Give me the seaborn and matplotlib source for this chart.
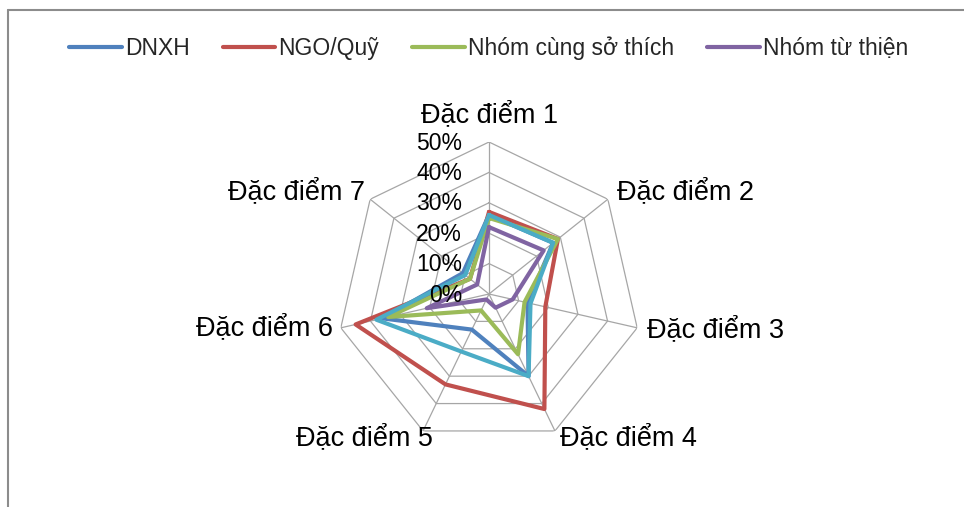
import numpy as np
import pandas as pd
import matplotlib
matplotlib.use("Agg")
import matplotlib.pyplot as plt
from matplotlib.lines import Line2D
import seaborn as sns

# --- data -------------------------------------------------------------
categories = ["Đặc điểm 1", "Đặc điểm 2", "Đặc điểm 3", "Đặc điểm 4",
              "Đặc điểm 5", "Đặc điểm 6", "Đặc điểm 7"]
series_names = ["DNXH", "NGO/Quỹ", "Nhóm cùng sở thích", "Nhóm từ thiện", "Khác"]
dnxh = [0.26, 0.27, 0.13, 0.30, 0.13, 0.36, 0.11]
ngo_quy = [0.27, 0.29, 0.19, 0.42, 0.33, 0.45, 0.08]
nhom_cung_so_thich = [0.25, 0.29, 0.12, 0.22, 0.06, 0.34, 0.08]
nhom_tu_thien = [0.22, 0.23, 0.08, 0.05, 0.02, 0.21, 0.05]
khac = [0.26, 0.27, 0.14, 0.30, 0.21, 0.38, 0.10]
ring_levels = [0.0, 0.1, 0.2, 0.3, 0.4, 0.5]
ring_labels = ["0%", "10%", "20%", "30%", "40%", "50%"]
legend_names = series_names[:4]

colors = ["#4F81BD", "#C0504D", "#9BBB59", "#8064A2", "#4BACC6"]

# --- style ------------------------------------------------------------
sns.set_theme(style="white")
plt.rcParams["font.family"] = ["Liberation Sans", "DejaVu Sans"]

W, H, DPI = 964, 507, 100
fig = plt.figure(figsize=(W / DPI, H / DPI), dpi=DPI)

# polar axes placed so the web is centred at (489, 294) px with 152 px radius
cx, cy, R = 489, 294, 152
ax = fig.add_axes([(cx - R) / W, (H - cy - R) / H, 2 * R / W, 2 * R / H],
                  projection="polar")
ax.set_theta_offset(np.pi / 2)
ax.set_theta_direction(-1)
ax.set_ylim(0, ring_levels[-1])
ax.grid(False)
ax.spines["polar"].set_visible(False)
ax.set_xticks([])
ax.set_yticks([])
ax.patch.set_alpha(0)

n = len(categories)
theta = np.arange(n) * 2 * np.pi / n
theta_closed = np.append(theta, 2 * np.pi)

# heptagonal grid rings and spokes
grid_color = "#A6A6A6"
for lvl in ring_levels[1:]:
    ax.plot(theta_closed, [lvl] * (n + 1), color=grid_color, lw=0.9, zorder=1)
for t in theta:
    ax.plot([t, t], [0, ring_levels[-1]], color=grid_color, lw=0.9, zorder=1)

# series, built as a long table and drawn with seaborn
rows = []
for name, vals in zip(series_names,
                      [dnxh, ngo_quy, nhom_cung_so_thich, nhom_tu_thien, khac]):
    closed = list(vals) + [vals[0]]
    for i, (t, v) in enumerate(zip(theta_closed, closed)):
        rows.append({"series": name, "theta": t, "value": v, "order": i})
df = pd.DataFrame(rows)

sns.lineplot(data=df, x="theta", y="value", hue="series", hue_order=series_names,
             palette=colors, sort=False, estimator=None, units="series",
             lw=3.0, ax=ax, legend=False, zorder=3)
ax.set_xlabel("")
ax.set_ylabel("")
ax.set_ylim(0, ring_levels[-1])

# radial value labels to the left of the first spoke, drawn over the lines
for lvl, lab in zip(ring_levels, ring_labels):
    ax.annotate(lab, xy=(0, lvl), xytext=(-27, -1), textcoords="offset pixels",
                ha="right", va="center", fontsize=16.5, color="black", zorder=6)

# category labels just outside each vertex
label_pos = [((1, 27), "center"), ((9, 7), "left"), ((10, -2), "left"),
             ((5, -7), "left"), ((10, -7), "right"), ((-8, 0), "right"),
             ((-5, 7), "right")]
for t, cat, (off, ha) in zip(theta, categories, label_pos):
    ax.annotate(cat, xy=(t, ring_levels[-1]), xytext=off,
                textcoords="offset pixels", ha=ha, va="center",
                fontsize=19.5, color="black", annotation_clip=False)

# legend
handles = [Line2D([], [], color=c, lw=3.0) for c in colors[:4]]
fig.legend(handles, legend_names, loc="center", bbox_to_anchor=(0.507, 1 - 48 / H),
           ncol=4, frameon=False, handlelength=2.3, handletextpad=0.13,
           columnspacing=1.45, prop={"family": ["Liberation Sans", "DejaVu Sans"],
                                     "size": 16.5})

# chart-area border (top and left edges)
fig.add_artist(Line2D([8 / W, 1], [1 - 10 / H, 1 - 10 / H], color="#8C8C8C", lw=1.5,
                      transform=fig.transFigure))
fig.add_artist(Line2D([8 / W, 8 / W], [0, 1 - 10 / H], color="#8C8C8C", lw=1.5,
                      transform=fig.transFigure))

fig.savefig("out.png", dpi=DPI, facecolor="white")
